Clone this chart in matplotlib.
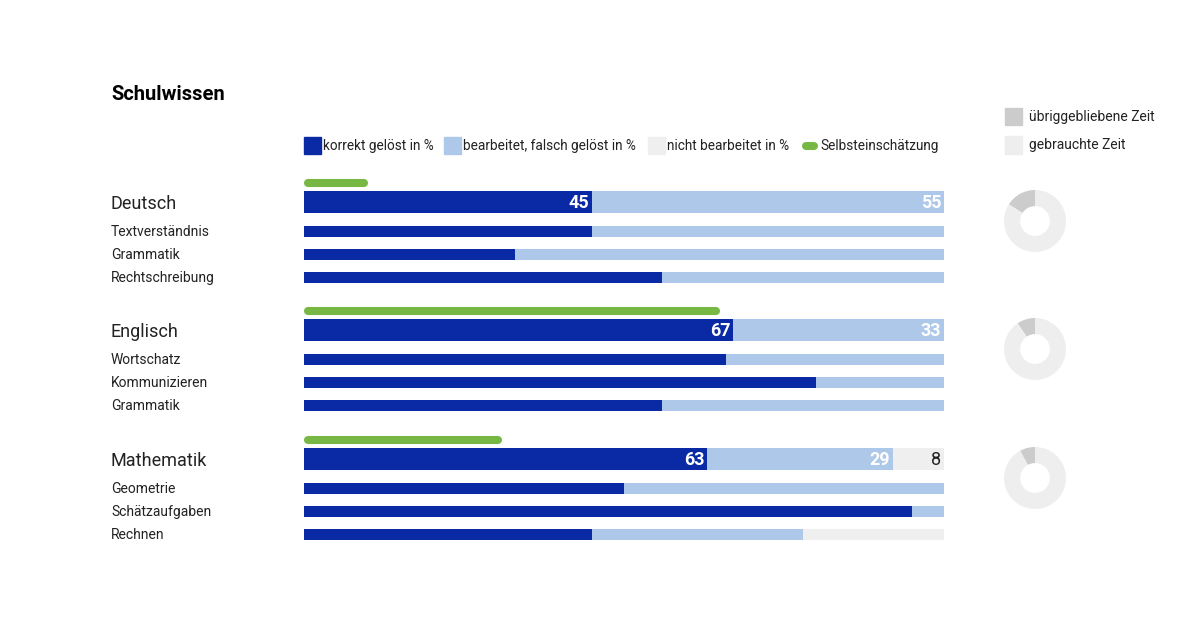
import matplotlib
matplotlib.use('Agg')
import matplotlib.pyplot as plt
from matplotlib.patches import Rectangle
from matplotlib.lines import Line2D
from matplotlib.transforms import blended_transform_factory

plt.rcParams['font.family'] = ['Roboto', 'DejaVu Sans']

# data
subjects = ['Deutsch', 'Englisch', 'Mathematik']
main_correct = [45, 67, 63]
main_wrong = [55, 33, 29]
main_open = [0, 0, 8]
self_estimate = [10, 65, 31]
time_left = [16, 9.5, 8]

sub_labels = [['Textverständnis', 'Grammatik', 'Rechtschreibung'],
              ['Wortschatz', 'Kommunizieren', 'Grammatik'],
              ['Geometrie', 'Schätzaufgaben', 'Rechnen']]
sub_correct = [[45, 33, 56], [66, 80, 56], [50, 95, 45]]
sub_wrong = [[55, 67, 44], [34, 20, 44], [50, 5, 33]]
sub_open = [[0, 0, 0], [0, 0, 0], [0, 0, 22]]

legend_labels = ['korrekt gelöst in %', 'bearbeitet, falsch gelöst in %',
                 'nicht bearbeitet in %', 'Selbsteinschätzung']
time_labels = ['übriggebliebene Zeit', 'gebrauchte Zeit']

c_dark = '#0a2aa5'
c_light = '#aec8ea'
c_gray = '#efefef'
c_green = '#76b843'
c_left = '#cccccc'
c_used = '#eeeeee'
c_text = '#222222'

W, H = 1200, 632
fig = plt.figure(figsize=(12, 6.32), dpi=100)
fig.patch.set_facecolor('white')

def fx(px):
    return px / W

def fy(py):
    return 1 - py / H

# bar axes in pixel-like rows
top, bot = 170, 548
ax = fig.add_axes([fx(304), fy(bot), fx(944) - fx(304), fy(top) - fy(bot)])
ax.set_xlim(0, 100)
ax.set_ylim(bot, top)
ax.axis('off')
lab = blended_transform_factory(fig.transFigure, ax.transData)

group_y = [202, 330, 459]
sub_off = [29.5, 52.5, 75.5]
cap = 4 / 640 * 100

for i, s in enumerate(subjects):
    y = group_y[i]
    c, w, o = main_correct[i], main_wrong[i], main_open[i]
    ax.barh(y, c, height=22, color=c_dark, left=0)
    ax.barh(y, w, height=22, color=c_light, left=c)
    if o:
        ax.barh(y, o, height=22, color=c_gray, left=c + w)
    ax.text(c - 0.4, y + 1, str(c), color='white', fontsize=13, fontweight='bold',
            ha='right', va='center')
    ax.text(c + w - 0.4, y + 1, str(w), color='white', fontsize=13, fontweight='bold',
            ha='right', va='center')
    if o:
        ax.text(100 - 0.4, y + 1, str(o), color=c_text, fontsize=13,
                ha='right', va='center')
    ax.plot([cap, self_estimate[i] - cap], [y - 19, y - 19], color=c_green, lw=5.8,
            solid_capstyle='round')
    ax.text(fx(111), y + 2, s, transform=lab, fontsize=13, color=c_text, va='center')
    for j, sl in enumerate(sub_labels[i]):
        yy = y + sub_off[j]
        sc, sw, so = sub_correct[i][j], sub_wrong[i][j], sub_open[i][j]
        ax.barh(yy, sc, height=11, color=c_dark, left=0)
        ax.barh(yy, sw, height=11, color=c_light, left=sc)
        if so:
            ax.barh(yy, so, height=11, color=c_gray, left=sc + sw)
        ax.text(fx(111), yy + 0.5, sl, transform=lab, fontsize=10, color=c_text,
                va='center')

# donuts for time
donut_y = [221, 349, 478]
for i in range(3):
    cy = donut_y[i]
    r = 31
    dax = fig.add_axes([fx(1035 - r), fy(cy + r), 2 * r / W, 2 * r / H])
    dax.pie([time_left[i], 100 - time_left[i]], colors=[c_left, c_used],
            startangle=90, counterclock=True, radius=1,
            wedgeprops=dict(width=0.52, edgecolor='none'))
    dax.set_xlim(-1, 1)
    dax.set_ylim(-1, 1)
    dax.set_aspect('equal')

# title
fig.text(fx(111), fy(95), 'Schulwissen', fontsize=14.5, fontweight='bold', color='black',
         va='center')

# legend
leg_x = [304, 444, 648]
leg_cols = [c_dark, c_light, c_gray]
for x0, col, txt in zip(leg_x, leg_cols, legend_labels[:3]):
    fig.add_artist(Rectangle((fx(x0), fy(154)), 17 / W, 17 / H, color=col,
                             transform=fig.transFigure))
    fig.text(fx(x0 + 19), fy(146), txt, fontsize=9.8, color=c_text, va='center')
fig.add_artist(Line2D([fx(806), fx(814)], [fy(146), fy(146)], color=c_green, lw=5.8,
                      solid_capstyle='round', transform=fig.transFigure))
fig.text(fx(820), fy(146), legend_labels[3], fontsize=9.8, color=c_text, va='center')

for k, (txt, col) in enumerate(zip(time_labels, [c_left, c_used])):
    yy = 116 + k * 29
    fig.add_artist(Rectangle((fx(1005), fy(yy + 8.5)), 17 / W, 17 / H, color=col,
                             transform=fig.transFigure))
    fig.text(fx(1029), fy(yy + 0.5), txt, fontsize=10, color=c_text, va='center')

fig.savefig('out.png', dpi=100, facecolor='white')
